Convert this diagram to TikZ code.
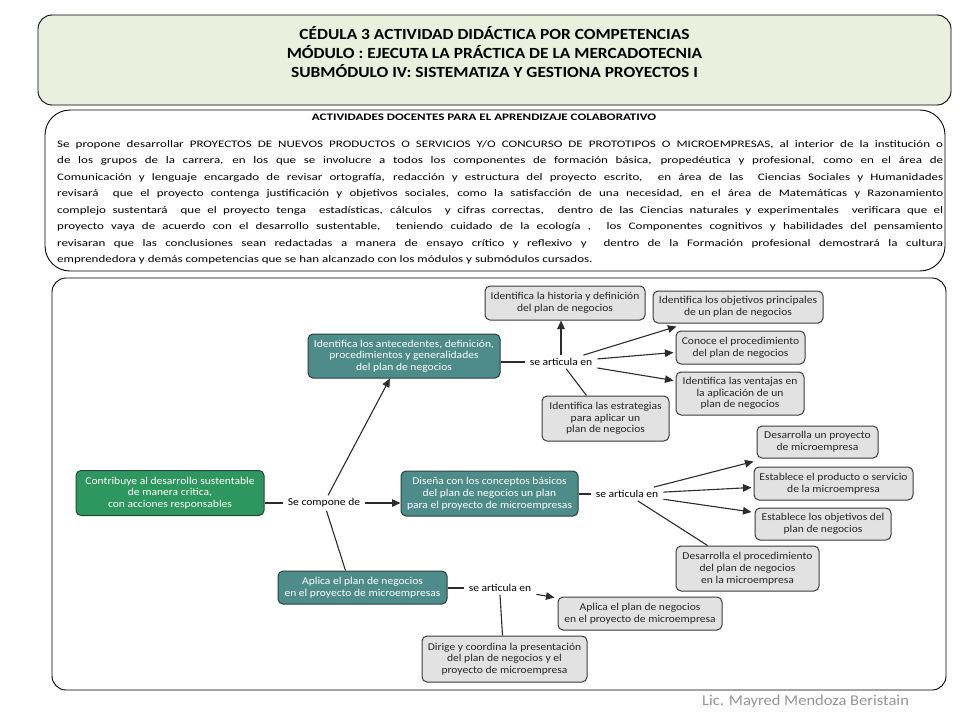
\documentclass[tikz,border=0pt]{standalone}
\usepackage{fontspec}
\setmainfont{Carlito}
\newfontfamily\parafont[FakeStretch=1.3]{Carlito}
\newfontfamily\nodefont[FakeStretch=1.1]{Carlito}
\newfontfamily\hdrfont[FakeStretch=1.12]{Carlito}
\usetikzlibrary{arrows.meta,calc}
\definecolor{hdrfill}{RGB}{235,240,222}
\definecolor{rootfill}{RGB}{46,150,95}
\definecolor{rootdraw}{RGB}{35,75,50}
\definecolor{tealfill}{RGB}{78,140,138}
\definecolor{tealdraw}{RGB}{40,65,65}
\definecolor{grayfill}{RGB}{226,226,226}
\definecolor{graydraw}{RGB}{60,60,60}
\definecolor{linkcol}{RGB}{45,45,45}
\definecolor{footcol}{RGB}{150,150,150}
\begin{document}
\begin{tikzpicture}[x=1pt,y=-1pt,
  frame/.style={draw=black,line width=0.9pt},
  cbox/.style={rounded corners=5pt,line width=1pt,align=center,inner sep=1pt,
    font=\nodefont\fontsize{10.5}{11.7}\selectfont},
  graybox/.style={cbox,draw=graydraw,fill=grayfill,text=black!85},
  tealbox/.style={cbox,draw=tealdraw,fill=tealfill,text=white},
  rootbox/.style={cbox,draw=rootdraw,fill=rootfill,text=white},
  linklabel/.style={inner xsep=5pt,inner ysep=3pt,font=\nodefont\fontsize{10.5}{11.7}\selectfont,text=black},
  link/.style={draw=linkcol,line width=1.1pt},
  arr/.style={link,-{Triangle[length=8.5pt,width=7.5pt]}}
]
\useasboundingbox (0,0) rectangle (960,720);
\fill[white] (0,0) rectangle (960,720);

% header
\draw[frame,fill=hdrfill,rounded corners=14pt] (38,15) rectangle (951,105);
\node[align=center,font=\hdrfont\bfseries\fontsize{15.5}{19}\selectfont] (hdr) at (494.5,52)
  {CÉDULA 3 ACTIVIDAD DIDÁCTICA POR COMPETENCIAS\\
   MÓDULO : EJECUTA LA PRÁCTICA DE LA MERCADOTECNIA\\
   SUBMÓDULO IV: SISTEMATIZA Y GESTIONA PROYECTOS I};

% paragraph box
\draw[frame,rounded corners=25pt] (45,110) rectangle (945,271);
\node[font=\parafont\bfseries\fontsize{10}{12}\selectfont] (ptitle) at (484,117)
  {ACTIVIDADES DOCENTES PARA EL APRENDIZAJE COLABORATIVO};
\node[anchor=north west,inner sep=0pt,text width=886pt,align=justify,
  font=\parafont\fontsize{10}{16.5}\selectfont] (para) at (57,140)
  {\hyphenpenalty=10000
  Se propone desarrollar PROYECTOS DE NUEVOS PRODUCTOS O SERVICIOS Y/O CONCURSO DE PROTOTIPOS O MICROEMPRESAS, al interior de la institución o\linebreak
  de los grupos de la carrera, en los que se involucre a todos los componentes de formación básica, propedéutica y profesional, como en el área de\linebreak
  Comunicación y lenguaje encargado de revisar ortografía, redacción y estructura del proyecto escrito, \ en área de las \ Ciencias Sociales y Humanidades\linebreak
  revisará \ que el proyecto contenga justificación y objetivos sociales, como la satisfacción de una necesidad, en el área de Matemáticas y Razonamiento\linebreak
  complejo sustentará \ que el proyecto tenga \ estadísticas, cálculos \ y cifras correctas, \ dentro de las Ciencias naturales y experimentales \ verificara que el\linebreak
  proyecto vaya de acuerdo con el desarrollo sustentable, \ teniendo cuidado de la ecología , \ los Componentes cognitivos y habilidades del pensamiento\linebreak
  revisaran que las conclusiones sean redactadas a manera de ensayo crítico y reflexivo y \ dentro de la Formación profesional demostrará la cultura\linebreak
  emprendedora y demás competencias que se han alcanzado con los módulos y submódulos cursados.};

% diagram frame
\draw[frame,rounded corners=14pt] (52,278) rectangle (946,690);

% main nodes
\node[rootbox,minimum width=188pt,minimum height=45pt] (root) at (170,493)
  {Contribuye al desarrollo sustentable\\de manera critica,\\con acciones responsables};
\node[tealbox,minimum width=192pt,minimum height=44pt] (A) at (404,356)
  {Identifica los antecedentes, definición,\\procedimientos y generalidades\\del plan de negocios};
\node[tealbox,minimum width=177pt,minimum height=45pt] (B) at (489.5,493.5)
  {Diseña con los conceptos básicos\\del plan de negocios un plan\\para el proyecto de microempresas};
\node[tealbox,minimum width=169pt,minimum height=33pt] (C) at (362.5,587.5)
  {Aplica el plan de negocios\\en el proyecto de microempresas};

% gray nodes, group A
\node[graybox,minimum width=160pt,minimum height=34pt] (hist) at (565,303)
  {Identifica la historia y definición\\del plan de negocios};
\node[graybox,minimum width=170pt,minimum height=32pt] (obj) at (738,307)
  {Identifica los objetivos principales\\de un plan de negocios};
\node[graybox,minimum width=129pt,minimum height=33pt] (conoce) at (740.5,347.5)
  {Conoce el procedimiento\\del plan de negocios};
\node[graybox,minimum width=128pt,minimum height=43pt] (vent) at (740,393.5)
  {Identifica las ventajas en\\la aplicación de un\\plan de negocios};
\node[graybox,minimum width=127pt,minimum height=45pt] (estr) at (605.5,418.5)
  {Identifica las estrategias\\para aplicar un\\plan de negocios};

% gray nodes, group B
\node[graybox,minimum width=121pt,minimum height=32pt] (dproy) at (817.5,442)
  {Desarrolla un proyecto\\de microempresa};
\node[graybox,minimum width=159pt,minimum height=33pt] (prod) at (833.5,483.5)
  {Establece el producto o servicio\\de la microempresa};
\node[graybox,minimum width=136pt,minimum height=32pt] (objd) at (823,524)
  {Establece los objetivos del\\plan de negocios};
\node[graybox,minimum width=143pt,minimum height=45pt] (proc) at (747.5,568.5)
  {Desarrolla el procedimiento\\del plan de negocios\\en la microempresa};

% gray nodes, group C
\node[graybox,minimum width=164pt,minimum height=33pt] (apl) at (640,613.5)
  {Aplica el plan de negocios\\en el proyecto de microempresa};
\node[graybox,minimum width=165pt,minimum height=46pt] (dir) at (504.5,659)
  {Dirige y coordina la presentación\\del plan de negocios y el\\proyecto de microempresa};

% link labels
\node[linklabel] (comp) at (324,503) {Se compone de};
\node[linklabel] (Alab) at (561,362) {se articula en};
\node[linklabel] (Blab) at (627,494) {se articula en};
\node[linklabel] (Clab) at (500,588) {se articula en};

% connectors from root
\draw[link] (root.east |- comp) -- (comp.west);
\draw[arr] (comp) -- ($(A.south west)!0.427!(A.south east)$);
\draw[arr] (comp.east) -- (B.west |- comp);
\draw[link] (comp) -- ($(C.north west)!0.40!(C.north east)$);

% group A
\draw[link] (A.east |- Alab) -- (Alab.west);
\draw[arr] (Alab.north) -- (hist.south -| Alab.north);
\draw[arr] (Alab) -- ($(obj.south west)!0.14!(obj.south east)+(0,3)$);
\draw[arr] (Alab) -- ($(conoce.west)+(-2,5)$);
\draw[arr] (Alab) -- ($(vent.west)+(-2,-13)$);
\draw[link] (Alab) -- ($(estr.north west)+(45,0)$);

% group B
\draw[link] (B.east |- Blab) -- (Blab.west);
\draw[arr] (Blab) -- ($(dproy.south west)+(-3,3)$);
\draw[arr] (Blab) -- ($(prod.west)+(-2,4)$);
\draw[arr] (Blab) -- ($(objd.west)+(-3,-12)$);
\draw[link] (Blab) -- ($(proc.north west)+(32,0)$);

% group C
\draw[link] (C.east |- Clab) -- (Clab.west);
\draw[arr] (Clab) -- ($(apl.north west)+(-3,1)$);
\draw[link] (Clab.south) -- ($(dir.north west)+(81,0)$);

% footer
\node[font=\nodefont\fontsize{15}{18}\selectfont,text=footcol] (foot) at (805.5,701)
  {Lic. Mayred Mendoza Beristain};
\end{tikzpicture}
\end{document}
